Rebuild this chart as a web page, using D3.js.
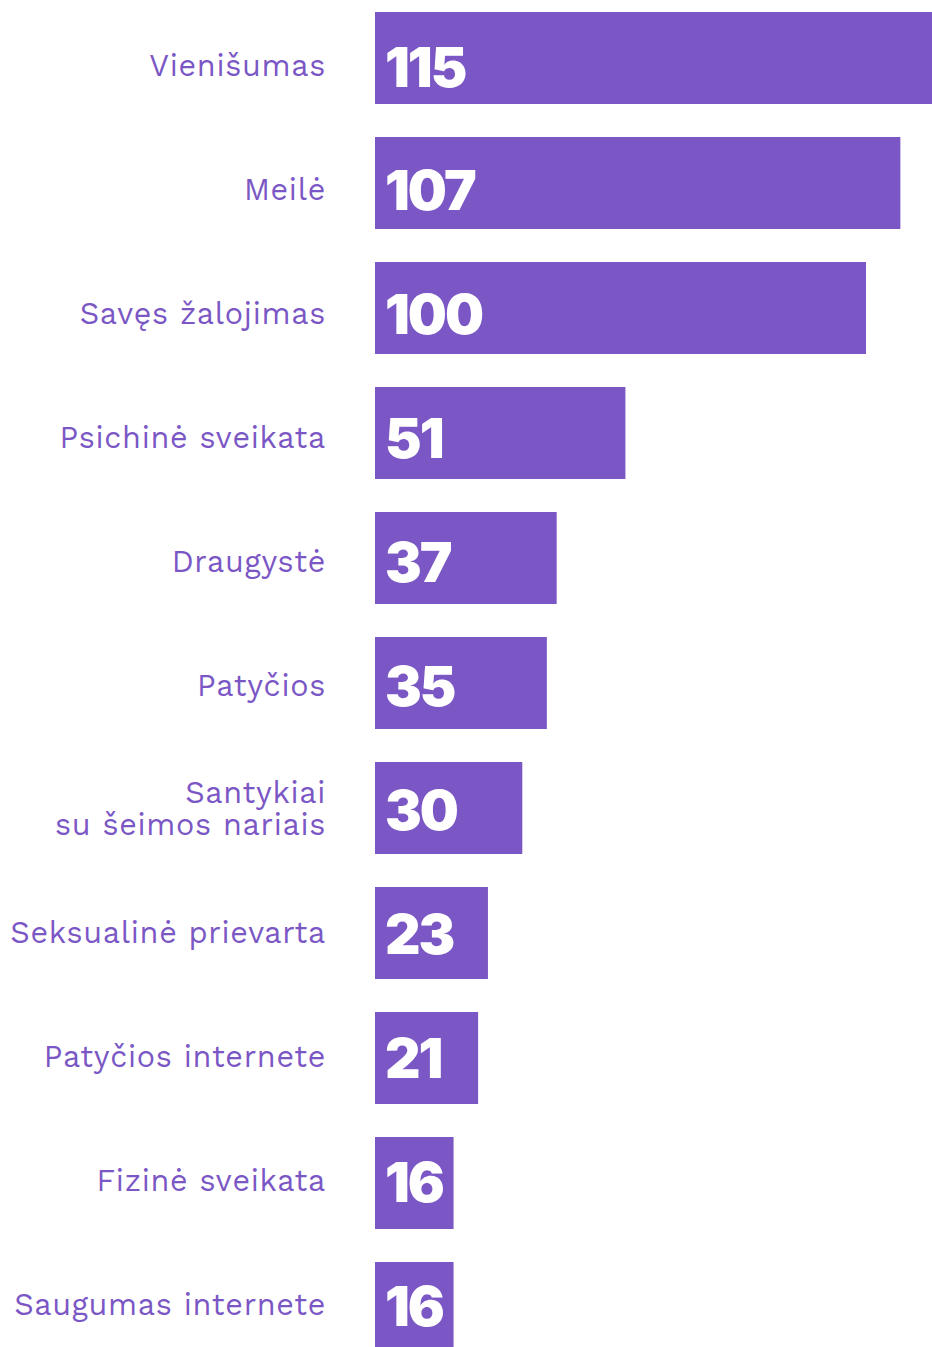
<!DOCTYPE html>
<html>
<head>
<meta charset="utf-8">
<script src="https://cdn.jsdelivr.net/npm/d3@7"></script>
<style>
  html, body { margin: 0; padding: 0; background: #ffffff; overflow: hidden; }
  svg { display: block; }
  .cat-label { font-family: "Work Sans", "Open Sans", sans-serif; font-size: 30.5px; fill: #7b57c5; letter-spacing: 0.7px; }
  .val-label { font-family: "Inter", "Roboto", sans-serif; font-weight: 900; font-size: 55px; fill: #ffffff; letter-spacing: -2px; }
</style>
</head>
<body>
<svg id="chart"></svg>
<script>
// Data
const categories = [
    "Vienišumas", "Meilė", "Savęs žalojimas", "Psichinė sveikata", "Draugystė",
    "Patyčios", "Santykiai\nsu šeimos nariais", "Seksualinė prievarta",
    "Patyčios internete", "Fizinė sveikata", "Saugumas internete"
];
const values = [115, 107, 100, 51, 37, 35, 30, 23, 21, 16, 16];

const CONFIG = {
    width: 932,
    height: 1347,
    barLeft: 375,
    top: 12,
    step: 125,
    barHeight: 92,
    textTop: 76,      // baseline of first category label
    textStep: 123.9,  // labels sit on a slightly tighter rhythm than the bars
    labelRight: 326,
    color: "#7b57c5"
};

const svg = d3.select("#chart")
    .attr("width", CONFIG.width)
    .attr("height", CONFIG.height);

const xScale = d3.scaleLinear()
    .domain([0, 100])
    .range([0, 491]);

const n = categories.length;
const yScale = d3.scaleBand()
    .domain(categories)
    .range([CONFIG.top, CONFIG.top + CONFIG.step * (n - 1) + CONFIG.barHeight])
    .paddingInner((CONFIG.step - CONFIG.barHeight) / CONFIG.step)
    .paddingOuter(0)
    .align(0);

// text baseline scale
const tScale = d3.scalePoint()
    .domain(categories)
    .range([CONFIG.textTop, CONFIG.textTop + CONFIG.textStep * (n - 1)]);

const rows = categories.map((c, i) => ({ cat: c, value: values[i] }));

// Bars
svg.selectAll("rect.bar")
    .data(rows)
    .join("rect")
    .attr("class", "bar")
    .attr("x", CONFIG.barLeft)
    .attr("y", d => yScale(d.cat))
    .attr("width", d => xScale(d.value))
    .attr("height", yScale.bandwidth())
    .attr("fill", CONFIG.color);

// Value labels
svg.selectAll("text.val-label")
    .data(rows)
    .join("text")
    .attr("class", "val-label")
    .attr("x", CONFIG.barLeft + 10)
    .attr("y", d => tScale(d.cat) + 10.5)
    .text(d => d.value);

// Category labels
const labels = svg.selectAll("text.cat-label")
    .data(rows)
    .join("text")
    .attr("class", "cat-label")
    .attr("text-anchor", "end")
    .attr("x", CONFIG.labelRight)
    .attr("y", d => tScale(d.cat));

labels.each(function(d) {
    const lines = d.cat.split("\n");
    const el = d3.select(this);
    const offset = -(lines.length - 1) * 16;
    lines.forEach((line, i) => {
        el.append("tspan")
            .attr("x", CONFIG.labelRight)
            .attr("dy", i === 0 ? offset : 32)
            .text(line);
    });
});
</script>
</body>
</html>
